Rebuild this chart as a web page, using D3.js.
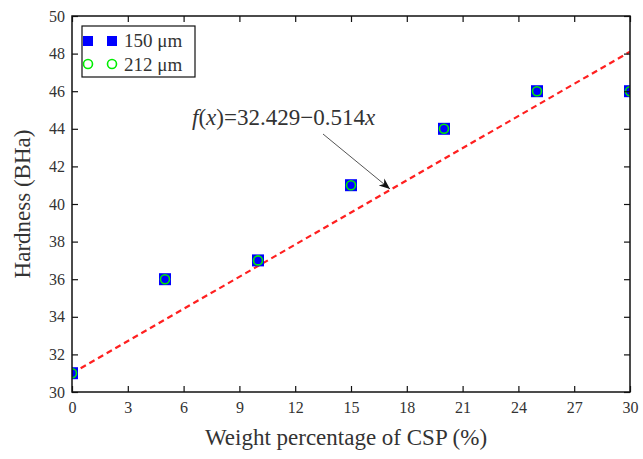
<!DOCTYPE html>
<html><head><meta charset="utf-8">
<script src="https://cdn.jsdelivr.net/npm/d3@7/dist/d3.min.js"></script>
<style>body{margin:0;background:#fff}</style>
</head><body>
<svg id="c" width="643" height="459"></svg>
<script>
const xValues = [0, 5, 10, 15, 20, 25, 30];
const hardness150 = [31, 36, 37, 41, 44, 46, 46];
const hardness212 = [31, 36, 37, 41, 44, 46, 46];
const fitX = [0, 30];
const fitY = [31, 48.1];
const xTicks = [0, 3, 6, 9, 12, 15, 18, 21, 24, 27, 30];
const yTicks = [30, 32, 34, 36, 38, 40, 42, 44, 46, 48, 50];
const seriesNames = ["150 μm", "212 μm"];

const svg = d3.select("#c");
const L = 72, R = 630, T = 16, B = 392;
const x = d3.scaleLinear().domain([0, 30]).range([L, R]);
const y = d3.scaleLinear().domain([30, 50]).range([B, T]);
const font = "'Liberation Serif','Times New Roman',serif";
const txt = "#333";

svg.append("defs").append("clipPath").attr("id", "clip")
  .append("rect").attr("x", L).attr("y", T).attr("width", R - L).attr("height", B - T);

const plot = svg.append("g").attr("clip-path", "url(#clip)");

// fit line
plot.append("path")
  .datum(fitX.map((d, i) => [d, fitY[i]]))
  .attr("d", d3.line().x(d => x(d[0])).y(d => y(d[1])))
  .attr("stroke", "#ff2020").attr("stroke-width", 2.2)
  .attr("stroke-dasharray", "6,4").attr("fill", "none");

// markers
const sq = 12;
plot.selectAll("rect.s150").data(xValues).join("rect")
  .attr("x", (d, i) => x(d) - sq / 2).attr("y", (d, i) => y(hardness150[i]) - sq / 2)
  .attr("width", sq).attr("height", sq).attr("fill", "#0000ff");
plot.selectAll("circle.s212").data(xValues).join("circle")
  .attr("cx", d => x(d)).attr("cy", (d, i) => y(hardness212[i]))
  .attr("r", 4.5).attr("fill", "none").attr("stroke", "#00ee00").attr("stroke-width", 1.6);

// axes
const axB = d3.axisBottom(x).tickValues(xTicks).tickSizeInner(-6).tickSizeOuter(0).tickPadding(10);
const axT = d3.axisTop(x).tickValues(xTicks).tickSizeInner(-6).tickSizeOuter(0).tickFormat("");
const axL = d3.axisLeft(y).tickValues(yTicks).tickSizeInner(-6).tickSizeOuter(0).tickPadding(7);
const axR = d3.axisRight(y).tickValues(yTicks).tickSizeInner(-6).tickSizeOuter(0).tickFormat("");
function style(g) {
  g.select(".domain").remove();
  g.selectAll(".tick line").attr("stroke", "#111").attr("stroke-width", 1.2);
  g.selectAll(".tick text").attr("fill", txt).style("font-family", font).style("font-size", "16px");
}
svg.append("g").attr("transform", `translate(0,${B})`).call(axB).call(style);
svg.append("g").attr("transform", `translate(0,${T})`).call(axT).call(style);
svg.append("g").attr("transform", `translate(${L},0)`).call(axL).call(style);
svg.append("g").attr("transform", `translate(${R},0)`).call(axR).call(style);
svg.append("rect").attr("x", L).attr("y", T).attr("width", R - L).attr("height", B - T)
  .attr("fill", "none").attr("stroke", "#111").attr("stroke-width", 1.5);

// axis labels
svg.append("text").attr("x", 346).attr("y", 445).attr("text-anchor", "middle")
  .attr("fill", txt).style("font-family", font).style("font-size", "23px")
  .text("Weight percentage of CSP (%)");
svg.append("text").attr("transform", `translate(30,${(T + B) / 2}) rotate(-90)`).attr("text-anchor", "middle")
  .attr("fill", txt).style("font-family", font).style("font-size", "23px")
  .text("Hardness (BHa)");

// legend
const lg = svg.append("g");
lg.append("rect").attr("x", 82).attr("y", 26).attr("width", 113).attr("height", 51)
  .attr("fill", "#fff").attr("stroke", "#111").attr("stroke-width", 1.2);
[88, 112].forEach(cx => {
  lg.append("rect").attr("x", cx - 5).attr("y", 41 - 5).attr("width", 10).attr("height", 10).attr("fill", "#0000ff");
  lg.append("circle").attr("cx", cx).attr("cy", 64).attr("r", 4.5).attr("fill", "none")
    .attr("stroke", "#00ee00").attr("stroke-width", 1.6);
});
seriesNames.forEach((n, i) => {
  lg.append("text").attr("x", 124).attr("y", 47 + i * 24).attr("fill", txt)
    .style("font-family", font).style("font-size", "19px").text(n);
});

// annotation
const ann = svg.append("text").attr("x", 192).attr("y", 125).attr("fill", txt)
  .style("font-family", font).style("font-size", "23px");
ann.append("tspan").style("font-style", "italic").text("f");
ann.append("tspan").text("(");
ann.append("tspan").style("font-style", "italic").text("x");
ann.append("tspan").text(")=32.429−0.514");
ann.append("tspan").style("font-style", "italic").text("x");

svg.append("defs").append("marker").attr("id", "ah").attr("viewBox", "0 0 10 10")
  .attr("refX", 10).attr("refY", 5).attr("markerWidth", 11).attr("markerHeight", 11)
  .attr("markerUnits", "userSpaceOnUse").attr("orient", "auto")
  .append("path").attr("d", "M0,1 L10,5 L0,9 L3,5 Z").attr("fill", "#111");
svg.append("line").attr("x1", 323).attr("y1", 134).attr("x2", 390).attr("y2", 189)
  .attr("stroke", "#555").attr("stroke-width", 1).attr("marker-end", "url(#ah)");
</script>
</body></html>
